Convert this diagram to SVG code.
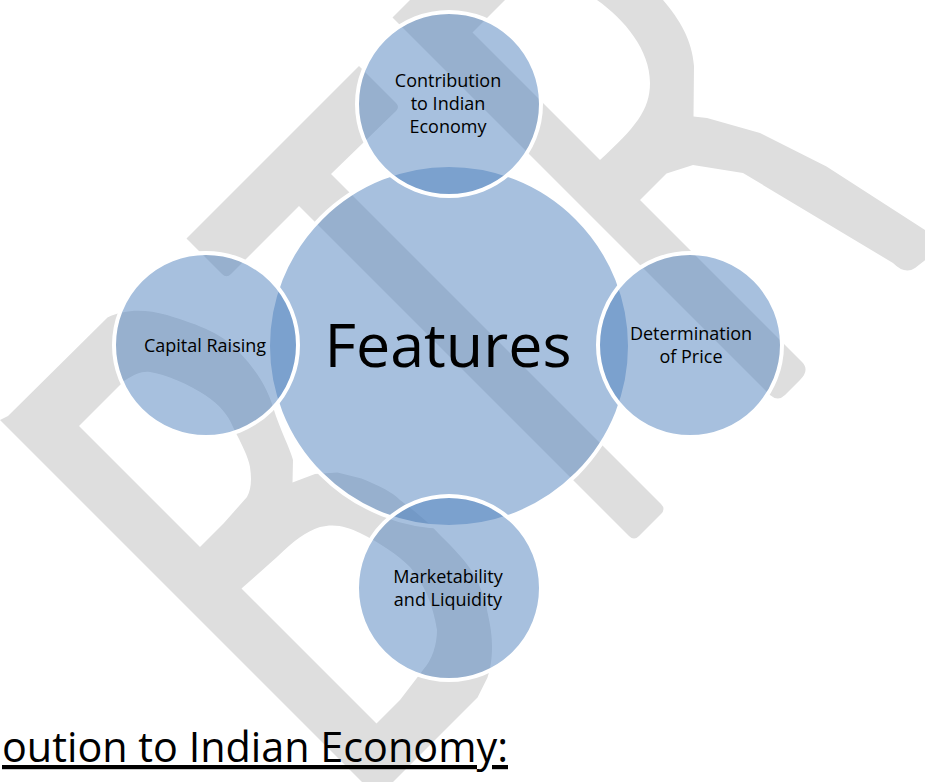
<svg xmlns="http://www.w3.org/2000/svg" width="925" height="782" viewBox="0 0 925 782">
  <style>
    .wm { fill: #DEDEDE; fill-rule: evenodd; }
    .big { fill: #4F81BD; fill-opacity: 0.5; stroke: #FFFFFF; stroke-width: 4; }
    .lbl { font-family: "Open Sans", "Liberation Sans", sans-serif; font-size: 18px; fill: #000000; text-anchor: middle; }
    .title { font-family: "Open Sans", "Liberation Sans", sans-serif; font-size: 61px; fill: #000000; text-anchor: middle; }
    .head { font-family: "Open Sans", "Liberation Sans", sans-serif; font-size: 42px; fill: #000000; text-decoration: underline; }
  </style>
  <rect width="925" height="782" fill="#FFFFFF"/>
  <g id="watermark">
    <path class="wm" d="M 8,416 L 107.5,317.5 C 125,309 145,309 167,315 C 200,325 225,335 240,353 C 258,372 268,390 273,407 C 280,430 290,448 293,460 L 292.5,482.5 L 315,474 L 337.5,472.5 L 361.5,478.5 C 380,486 392,492 400,500 C 420,515 432,526 441,536 C 455,550 465,560 473,573 C 482,590 486,600 487.5,612.5 C 491,628 492,637 492,647 C 492,660 490,670 487.5,677.5 L 477.5,697.5 L 377.5,797.5 L 0,420 Z M 79,426 L 124,381 C 135,374 142,371 150,372 C 165,374 190,385 205,395 C 220,405 228,415 233,427 C 242,445 248,456 250,467 C 252,480 251,490 247,497 L 223.5,523.5 L 200,547 Z M 241.5,588.5 L 277,557 C 295,540 305,532 320,527 C 335,523 348,527 360,533 C 380,543 398,555 410,567 C 425,585 433,605 437,630 C 437,645 432,660 423,670 L 400,700 L 376.5,723.5 Z"/>
    <path class="wm" d="M 186.5,238.5 L 359,66 L 396,103 Q 400,107 396,111 L 331,174 L 661,504 Q 666,509 661,514 L 639,536 Q 634,541 629,536 L 299,206 L 231,274 Q 226.5,278.5 222,274 L 191,243 Q 186.5,238.5 186.5,238.5 Z"/>
    <path class="wm" d="M 392.5,17.5 L 430,-20 L 650,-20 L 663,0 C 680,20 692,40 694,66 L 693.5,116.5 L 707,118 L 760,133 L 826.5,166.5 L 925,230 Q 942,242 928,258 L 915,268 Q 905,275 893,263 L 743,173 L 693,165 L 666.5,173.5 L 640,200 L 802,362 Q 810,370 800,380 L 785,395 Q 778,402 770,395 Z M 472.5,32.5 L 520,-15 L 590,-15 L 597,0 C 625,20 650,50 650,83 C 650,110 635,128 600,160 Z"/>
  </g>
  <g id="connectors"></g>
  <g id="node-features">
    <circle class="big" cx="449" cy="346" r="181"/>
    <text class="title" x="448" y="367">Features</text>
  </g>
  <g id="node-contribution">
    <circle class="big" cx="449" cy="104" r="92"/>
    <text class="lbl" x="448" y="87">Contribution</text>
    <text class="lbl" x="448" y="110">to Indian</text>
    <text class="lbl" x="448" y="133">Economy</text>
  </g>
  <g id="node-capital">
    <circle class="big" cx="206" cy="345" r="92"/>
    <text class="lbl" x="205" y="352">Capital Raising</text>
  </g>
  <g id="node-price">
    <circle class="big" cx="690" cy="345" r="92"/>
    <text class="lbl" x="691" y="340">Determination</text>
    <text class="lbl" x="691" y="363">of Price</text>
  </g>
  <g id="node-marketability">
    <circle class="big" cx="449" cy="588" r="92"/>
    <text class="lbl" x="448" y="583">Marketability</text>
    <text class="lbl" x="448" y="606">and Liquidity</text>
  </g>
  <text class="head" x="2" y="762" textLength="506" lengthAdjust="spacingAndGlyphs">oution to Indian Economy:</text>
</svg>
